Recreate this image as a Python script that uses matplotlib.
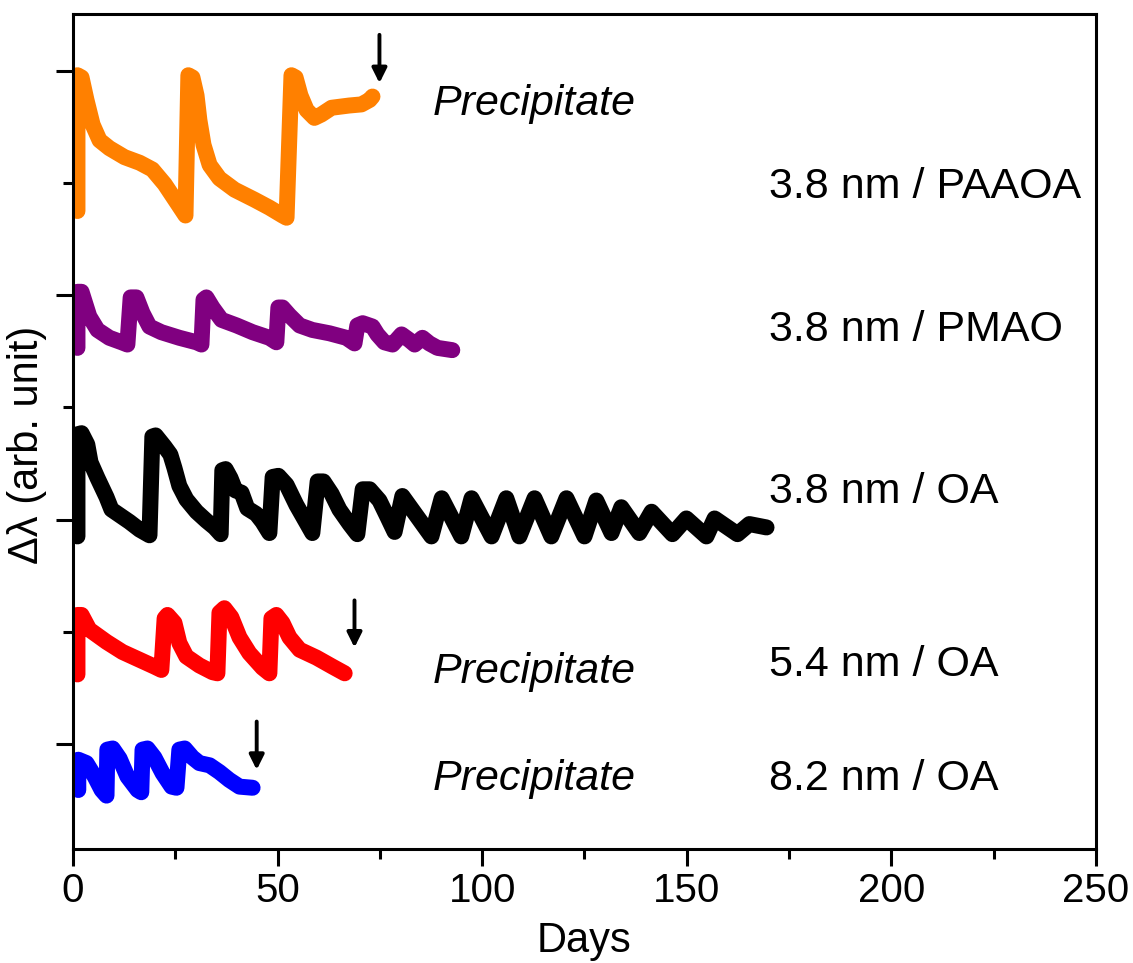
import matplotlib.pyplot as plt
from matplotlib.ticker import MultipleLocator, NullFormatter

plt.rcParams['font.family'] = ['Liberation Sans', 'DejaVu Sans']

# --- data (days, delta lambda in arb. unit) ---
paaoa_days = [1.1, 1.1, 2.1, 3.3, 4.8, 6.5, 8.9, 12.6, 16.3, 19.4, 22.4, 25.5, 27.5,
              28.2, 29.2, 30.2, 30.9, 31.9, 33.4, 35.8, 39.5, 44.4, 48.0, 51.2, 52.2,
              53.4, 54.4, 55.6, 57.1, 59.0, 60.7, 63.2, 67.5, 70.5, 72.5, 73.2]
paaoa_dl = [4.75, 5.96, 5.94, 5.74, 5.52, 5.38, 5.31, 5.23, 5.18, 5.12, 4.99, 4.82, 4.71,
            5.96, 5.94, 5.78, 5.56, 5.34, 5.16, 5.04, 4.94, 4.85, 4.78, 4.71, 4.69,
            5.96, 5.94, 5.78, 5.65, 5.58, 5.61, 5.67, 5.69, 5.70, 5.74, 5.77]

pmao_days = [1.1, 1.1, 2.1, 4.0, 6.0, 8.9, 11.9, 13.3, 14.1, 15.5, 17.0, 18.7, 21.6,
             26.0, 30.2, 31.4, 31.9, 32.6, 34.1, 36.3, 40.0, 43.9, 48.0, 49.7, 50.2,
             51.2, 52.9, 55.4, 58.5, 62.7, 66.8, 68.8, 69.5, 70.8, 73.2, 74.4, 76.1,
             78.1, 80.3, 82.2, 83.5, 85.4, 87.1, 89.1, 92.7]
pmao_dl = [3.53, 4.03, 4.03, 3.81, 3.69, 3.62, 3.58, 3.56, 3.98, 3.98, 3.84, 3.72, 3.67,
           3.62, 3.58, 3.56, 3.96, 3.98, 3.89, 3.78, 3.73, 3.67, 3.62, 3.58, 3.89,
           3.89, 3.82, 3.73, 3.69, 3.66, 3.62, 3.57, 3.73, 3.75, 3.72, 3.65, 3.58,
           3.56, 3.65, 3.60, 3.56, 3.62, 3.57, 3.53, 3.51]

oa38_days = [1.1, 1.1, 2.1, 3.5, 4.3, 6.0, 8.2, 9.4, 11.4, 13.8, 16.3, 18.7,
             19.4, 20.2, 22.4, 23.8, 24.8, 26.0, 27.7, 30.2, 32.6, 34.6, 36.1,
             36.5, 37.3, 38.5, 39.7, 41.2, 42.6, 44.8, 46.3, 48.0,
             48.8, 50.2, 52.2, 54.6, 57.1, 58.5,
             59.8, 61.2, 63.2, 65.1, 67.6, 69.5,
             70.8, 72.5, 74.9, 76.9, 78.6,
             80.5, 87.6, 90.1, 94.9, 97.4, 102.3, 105.9, 109.1, 112.8, 116.9,
             120.6, 125.0, 127.9, 131.6, 134.0, 138.4, 141.4, 146.5, 149.9, 154.8,
             156.8, 162.4, 165.3, 169.5]
oa38_dl = [1.85, 2.76, 2.77, 2.67, 2.51, 2.37, 2.20, 2.09, 2.04, 1.98, 1.91, 1.86,
           2.74, 2.75, 2.65, 2.58, 2.46, 2.30, 2.18, 2.07, 1.99, 1.93, 1.87,
           2.44, 2.45, 2.37, 2.26, 2.24, 2.10, 2.05, 1.98, 1.88,
           2.38, 2.39, 2.31, 2.13, 1.97, 1.88,
           2.34, 2.34, 2.23, 2.09, 1.96, 1.87,
           2.27, 2.27, 2.17, 2.02, 1.89,
           2.21, 1.85, 2.19, 1.85, 2.19, 1.85, 2.19, 1.85, 2.19, 1.85,
           2.19, 1.85, 2.17, 1.88, 2.11, 1.88, 2.07, 1.87, 2.01, 1.85,
           2.01, 1.87, 1.96, 1.93]

oa54_days = [1.1, 1.1, 2.1, 4.0, 8.2, 12.1, 16.3, 19.9, 21.6,
             22.4, 23.1, 24.8, 26.0, 27.7, 30.9, 34.1, 35.3,
             35.8, 37.0, 38.7, 40.7, 43.1, 46.3, 48.0,
             48.5, 49.7, 51.2, 52.9, 55.4, 59.5, 63.4, 66.4]
oa54_dl = [0.62, 1.15, 1.15, 1.02, 0.91, 0.82, 0.75, 0.69, 0.66,
           1.12, 1.15, 1.08, 0.90, 0.78, 0.70, 0.64, 0.63,
           1.17, 1.21, 1.13, 0.95, 0.81, 0.68, 0.63,
           1.12, 1.15, 1.08, 0.95, 0.84, 0.77, 0.69, 0.63]

oa82_days = [1.3, 1.3, 3.3, 5.3, 7.0, 8.2,
             8.4, 9.7, 11.4, 13.3, 15.8, 16.7,
             17.0, 18.2, 19.9, 21.9, 24.1, 25.3,
             26.0, 27.3, 29.2, 30.9, 33.4, 35.8, 38.2, 40.7, 43.9]
oa82_dl = [-0.41, -0.14, -0.17, -0.29, -0.41, -0.46,
           -0.05, -0.04, -0.13, -0.29, -0.41, -0.43,
           -0.05, -0.04, -0.12, -0.26, -0.38, -0.39,
           -0.05, -0.04, -0.12, -0.17, -0.19, -0.25, -0.32, -0.38, -0.39]

sample_labels = ['3.8 nm / PAAOA', '3.8 nm / PMAO', '3.8 nm / OA',
                 '5.4 nm / OA', '8.2 nm / OA']
precipitate_text = 'Precipitate'


def main():
    fig = plt.figure(figsize=(11.33, 9.63), dpi=100)
    ax = fig.add_axes([0.0644, 0.1187, 0.9029, 0.8668])

    series = [
        (paaoa_days, paaoa_dl, '#FF8000'),
        (pmao_days, pmao_dl, '#800080'),
        (oa38_days, oa38_dl, 'black'),
        (oa54_days, oa54_dl, '#FF0000'),
        (oa82_days, oa82_dl, '#0000FF'),
    ]
    for xs, ys, color in series:
        ax.plot(xs, ys, color=color, linewidth=11.5,
                solid_capstyle='round', solid_joinstyle='round')

    # sample labels on the right
    label_y = [4.96, 3.69, 2.25, 0.70, -0.31]
    for text, yy in zip(sample_labels, label_y):
        ax.text(170.2, yy, text, fontsize=31, va='center', ha='left')

    # precipitation markers: arrow at end of curve + italic text
    arrow_pos = [(74.9, 6.32, 5.89), (68.8, 1.28, 0.86), (44.9, 0.20, -0.23)]
    for xx, y0, y1 in arrow_pos:
        ax.annotate('', xy=(xx, y1), xytext=(xx, y0),
                    arrowprops=dict(arrowstyle='-|>', color='black', lw=2.8,
                                    mutation_scale=22, shrinkA=0, shrinkB=0))
    for yy in [5.70, 0.64, -0.31]:
        ax.text(88.0, yy, precipitate_text, fontsize=31, style='italic',
                va='center', ha='left')

    ax.set_xlim(0, 250)
    ax.set_ylim(-0.933, 6.506)
    ax.xaxis.set_major_locator(MultipleLocator(50))
    ax.xaxis.set_minor_locator(MultipleLocator(25))
    ax.yaxis.set_major_locator(MultipleLocator(2))
    ax.yaxis.set_minor_locator(MultipleLocator(1))
    ax.yaxis.set_major_formatter(NullFormatter())

    ax.tick_params(axis='x', which='major', direction='out', length=12, width=2.2,
                   labelsize=29, pad=5, top=False)
    ax.tick_params(axis='x', which='minor', direction='out', length=7, width=2.2, top=False)
    ax.tick_params(axis='y', which='major', direction='out', length=12, width=2.2,
                   right=False)
    ax.tick_params(axis='y', which='minor', direction='out', length=7, width=2.2,
                   right=False)
    for sp in ax.spines.values():
        sp.set_linewidth(2.2)

    ax.set_xlabel('Days', fontsize=30, labelpad=8)
    ax.set_ylabel('\u0394\u03bb (arb. unit)', fontsize=30)
    ax.yaxis.set_label_coords(-0.025, 0.484)

    fig.savefig('out.png', dpi=100, facecolor='white')
    plt.close(fig)


if __name__ == '__main__':
    main()
